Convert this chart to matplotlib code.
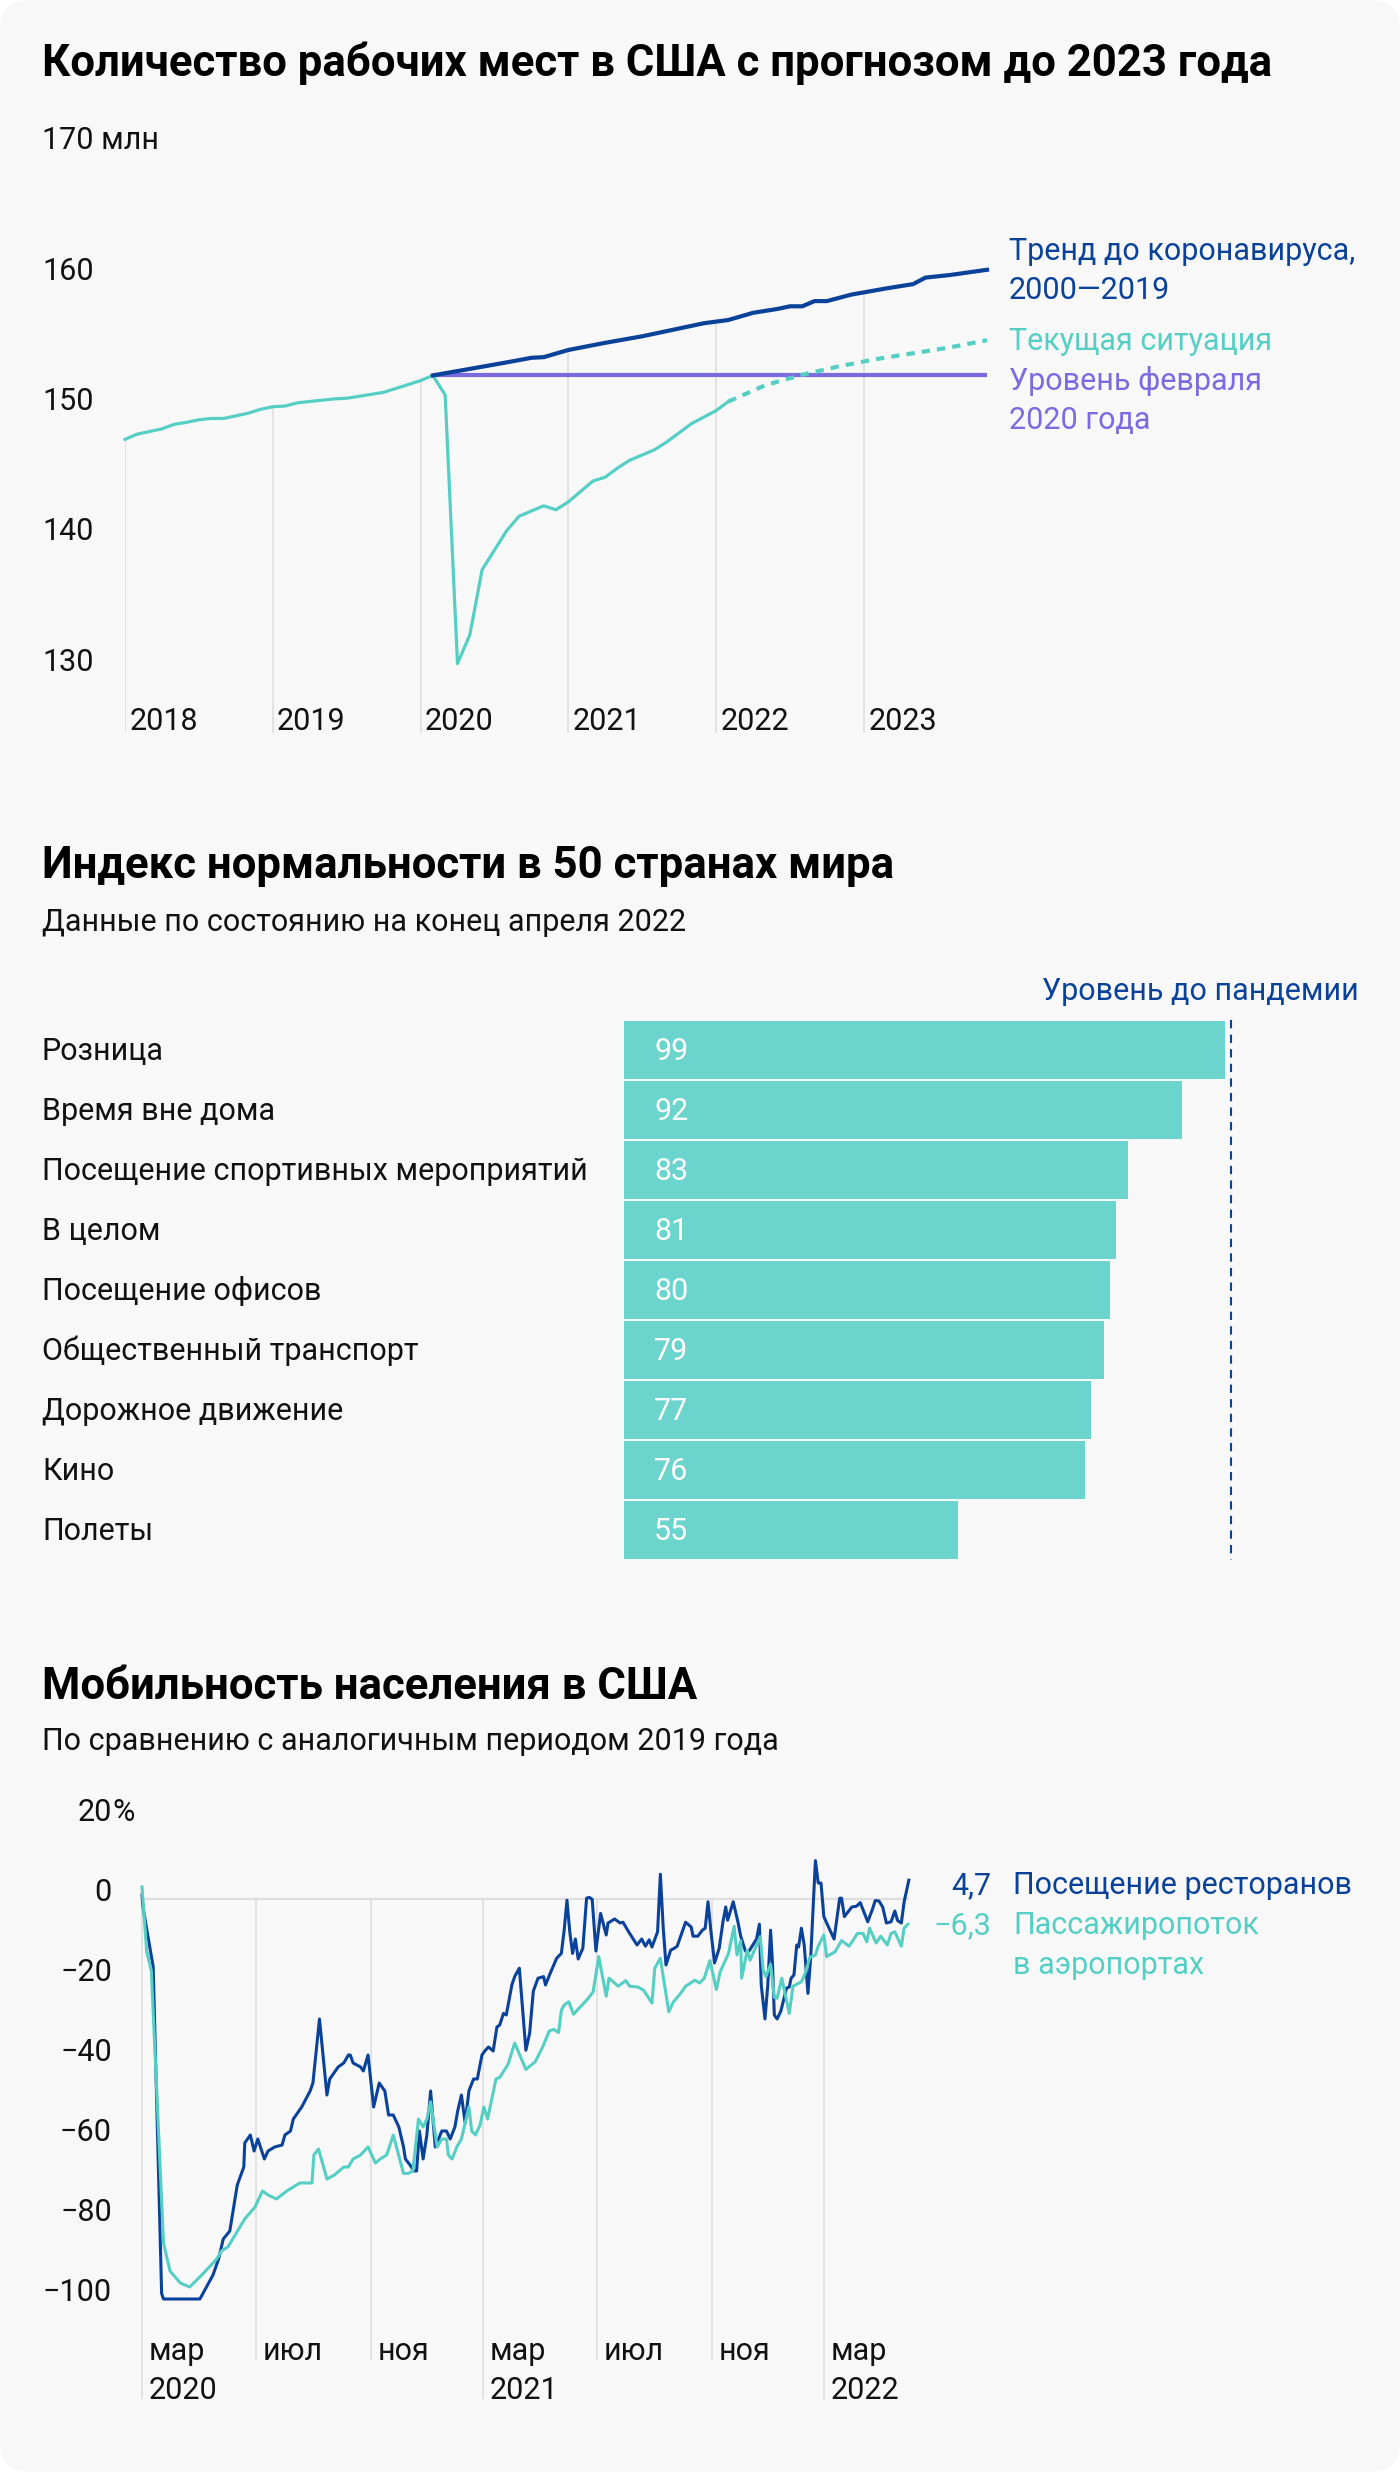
import numpy as np
import matplotlib
matplotlib.use("Agg")
import matplotlib.pyplot as plt
from matplotlib.patches import FancyBboxPatch

plt.rcParams['font.family'] = ['Roboto', 'DejaVu Sans']

W, H = 1400, 2472
BG = '#F8F8F8'
TEAL = '#55CFC4'
BAR = '#6AD4CD'
NAVY = '#0B4299'
PURPLE = '#7C6BE0'
GRID = '#DEDEDE'
INK = '#111111'
TITLE_SIZE = 31.5
BODY = 22

#==================== chart 1: jobs in the US, mln ====================#
# month index: 0 = Jan 2018
jobs_month = list(range(50))
jobs_val = [147.6, 148.0, 148.2, 148.4, 148.75, 148.9, 149.1, 149.2, 149.2, 149.4, 149.6, 149.9,   # 2018
            150.1, 150.15, 150.4, 150.5, 150.6, 150.7, 150.75, 150.9, 151.05, 151.2, 151.5, 151.8,  # 2019
            152.1, 152.5, 151.0, 130.4, 132.6, 137.6, 139.1, 140.6, 141.7, 142.1, 142.5, 142.2,     # 2020
            142.8, 143.6, 144.4, 144.7, 145.4, 146.0, 146.4, 146.8, 147.4, 148.1, 148.8, 149.3,     # 2021
            149.8, 150.5]                                                                          # 2022
fc_month = [49, 52, 55, 58, 61, 64, 67, 70]
fc_val = [150.5, 151.75, 152.55, 153.2, 153.75, 154.2, 154.65, 155.2]
trend_month = [25, 28, 31, 33, 34, 36, 39, 42, 45, 47, 49, 51, 53, 54, 55, 56, 57, 59, 62, 64, 65, 67, 70]
trend_val = [152.5, 153.0, 153.5, 153.85, 153.9, 154.45, 155.0, 155.5, 156.1, 156.5, 156.75, 157.3,
             157.6, 157.8, 157.8, 158.2, 158.2, 158.7, 159.2, 159.5, 160.0, 160.2, 160.6]
feb_level = 152.5
feb_month = [25, 70]
jobs_ticks = [170, 160, 150, 140, 130]
jobs_years = [2018, 2019, 2020, 2021, 2022, 2023]

#==================== chart 2: normality index ====================#
norm_cats = ["Розница", "Время вне дома", "Посещение спортивных мероприятий", "В целом",
             "Посещение офисов", "Общественный транспорт", "Дорожное движение", "Кино", "Полеты"]
norm_vals = [99, 92, 83, 81, 80, 79, 77, 76, 55]
pre_pandemic = 100

#==================== chart 3: mobility vs 2019, % ====================#
# day index: 0 = 1 Mar 2020
rest_day = [0, 1, 12, 21, 23, 62, 76, 82, 87, 94, 102, 109, 110, 116, 120, 124, 131, 135, 142, 150,
            153, 159, 162, 171, 180, 183, 190, 198, 201, 210, 216, 221, 223, 226, 234, 237, 242, 248,
            254, 260, 264, 269, 275, 280, 282, 287, 291, 294, 297, 301, 305, 309, 314, 321, 326, 330,
            335, 338, 342, 346, 350, 355, 359, 364, 367, 371, 376, 380, 383, 387, 390, 396, 399, 404,
            408, 411, 415, 419, 424, 430, 432, 437, 444, 449, 452, 455, 458, 461, 464, 467, 472, 476,
            479, 482, 486, 491, 497, 499, 506, 512, 515, 521, 530, 535, 539, 543, 546, 552, 555, 558,
            561, 566, 570, 573, 579, 582, 588, 590, 595, 600, 603, 606, 609, 613, 618, 622, 625, 627,
            633, 638, 641, 646, 650, 658, 661, 663, 667, 670, 673, 675, 677, 680, 684, 690, 693, 695,
            698, 701, 703, 706, 709, 713, 716, 721, 724, 727, 730, 735, 741, 747, 749, 752, 760, 765,
            769, 777, 782, 785, 789, 793, 797, 802, 806, 809, 813, 816, 821]
rest_val = [1, -2, -17, -98.6, -100, -100, -94, -90, -85, -83, -71.5, -67, -61, -59, -63, -60, -65, -63,
            -62, -61.5, -59, -58, -55, -52, -48, -46, -30, -49, -45, -42, -41, -39, -39, -41, -42, -43,
            -39, -52, -46, -48, -54, -54, -57, -62, -65, -66.5, -68, -68, -58, -65, -59, -48, -62, -58,
            -58, -60, -57, -53, -49, -56, -48, -45, -45, -39, -38, -37, -38, -32, -31.5, -28.6, -29,
            -21.5, -19.4, -17.3, -29, -37.8, -33.6, -23, -19.8, -19.4, -21.5, -18.6, -14.8, -13.6, -7.8,
            -0.3, -8.2, -13.6, -10, -15, -12.3, 0.2, 0.4, -0.1, -13, -3.6, -9, -6, -5, -6, -5.8, -8.2,
            -11.5, -10, -11.8, -10.2, -12, -8.2, 6.2, -7, -16.5, -12.8, -12.3, -11.8, -7.8, -5.8, -7,
            -9.3, -9.3, -7.8, -7.3, -0.7, -7.8, -16, -12.3, -5.7, -2, -5.3, -0.7, -5.7, -9.3, -13, -13,
            -10, -6.3, -21.5, -30, -21.5, -7.8, -16, -29, -30, -28, -22.3, -22, -19.8, -19, -11.5, -12,
            -7.3, -11.5, -23.6, -14.4, 9.6, 4, 4, -4.4, -7, -10, 0.2, 0.2, -4.4, -2, -1.8, -0.9, -5.7,
            -2.6, -0.4, -0.5, -2, -6, -5.7, -3, -5.4, -6, -0.7, 4.7]
air_day = [0, 5, 10, 16, 23, 30, 41, 51, 64, 80, 85, 92, 110, 121, 129, 135, 144, 155, 169, 182, 184,
           189, 198, 206, 216, 221, 226, 234, 242, 250, 255, 262, 269, 280, 285, 290, 296, 301, 305,
           309, 316, 321, 326, 328, 332, 337, 342, 350, 353, 357, 362, 366, 370, 379, 383, 392, 399,
           411, 421, 429, 436, 441, 446, 449, 452, 457, 462, 478, 483, 489, 497, 500, 510, 518, 522,
           531, 537, 546, 549, 555, 564, 569, 576, 582, 592, 597, 602, 608, 615, 619, 628, 634, 637,
           641, 642, 648, 651, 662, 665, 668, 673, 677, 680, 685, 693, 697, 706, 710, 715, 721, 724,
           730, 733, 742, 749, 757, 766, 772, 776, 779, 786, 791, 798, 802, 806, 813, 816, 820]
air_val = [3, -13, -18, -49, -86, -93, -96, -97, -94, -90, -88, -87, -80, -77, -73, -74, -75, -73, -71,
           -71, -64, -62.5, -70, -69, -67, -67, -65, -64, -62, -66, -65, -64, -59, -68.6, -68.6, -68,
           -55, -57, -55, -50.7, -62, -60, -60, -64, -65, -62, -60, -52, -58, -59, -56.5, -52, -55, -45,
           -44.6, -41.3, -36, -42.6, -40.7, -37, -33, -32.6, -33.4, -27.8, -26.5, -25.7, -28.8, -24.8,
           -23.2, -14.4, -24.3, -19.8, -21.8, -20.4, -21.8, -22, -22.8, -26, -17.3, -14.8, -28.2, -25.7,
           -23.8, -21.8, -20.3, -21, -19.8, -15.4, -22.6, -18.2, -13.6, -6.8, -14, -10.4, -19.8, -12.8,
           -15.3, -9.4, -17.8, -19.4, -16.3, -24.6, -24.8, -19.8, -28.6, -21.8, -20.7, -18.6, -14.6,
           -14, -11.8, -9, -14.4, -13.2, -10.4, -11.8, -8.6, -8.6, -10.7, -7.3, -11, -9.3, -11.5, -8.6,
           -8.2, -11.8, -7.3, -6.3]
mob_ticks = [0, -20, -40, -60, -80, -100]
month_day = [0, 122, 245, 365, 487, 610, 730]
month_lbl = ["мар", "июл", "ноя", "мар", "июл", "ноя", "мар"]
year_lbl = ["2020", "", "", "2021", "", "", "2022"]


fig = plt.figure(figsize=(W / 100, H / 100), dpi=100)
fig.patch.set_facecolor('white')
card = FancyBboxPatch((0, 0), W / 100, H / 100, boxstyle='round,pad=0,rounding_size=0.3',
                      transform=fig.dpi_scale_trans, facecolor=BG, edgecolor='none', zorder=-5)
fig.patches.append(card)


def box(l, t, r, b):
    return [l / W, 1 - b / H, (r - l) / W, (b - t) / H]


def ftext(x, y, s, **kw):
    kw.setdefault('va', 'baseline')
    kw.setdefault('fontsize', BODY)
    kw.setdefault('color', INK)
    fig.text(x / W, 1 - y / H, s, **kw)


def clean(ax):
    ax.set_facecolor('none')
    for s in ax.spines.values():
        s.set_visible(False)
    ax.set_xticks([])
    ax.set_yticks([])


#-------------------- chart 1 --------------------#
ftext(42, 76, "Количество рабочих мест в США с прогнозом до 2023 года", fontsize=TITLE_SIZE, fontweight='bold', color='black')

ax1 = fig.add_axes(box(125, 147.2, 987, 733))
clean(ax1)
ax1.set_xlim(0, 70)
ax1.set_ylim(125.08, 170)

# gridlines go up to the highest line at that month
for m in [12 * i for i in range(len(jobs_years))]:
    tops = [np.interp(m, jobs_month, jobs_val)]
    if trend_month[0] <= m <= trend_month[-1]:
        tops.append(np.interp(m, trend_month, trend_val))
    if fc_month[0] <= m <= fc_month[-1]:
        tops.append(np.interp(m, fc_month, fc_val))
    ax1.vlines(m, 125.08, max(tops), color=GRID, lw=1.2, zorder=1)

ax1.plot(feb_month, [feb_level, feb_level], color=PURPLE, lw=3, solid_capstyle='butt', zorder=3, clip_on=False)
ax1.plot(jobs_month, jobs_val, color=TEAL, lw=2.3, zorder=4, clip_on=False)
ax1.plot(fc_month, fc_val, color=TEAL, lw=3, dashes=(2, 1.7), zorder=4, clip_on=False)
ax1.plot(trend_month, trend_val, color=NAVY, lw=3, zorder=5, clip_on=False)

for v in jobs_ticks:
    ax1.text((42 - 125) / 862, v - 0.15, f"{v} млн" if v == 170 else str(v), transform=ax1.get_yaxis_transform(),
             fontsize=BODY, color=INK, va='baseline', ha='left')
for i, yr in enumerate(jobs_years):
    ax1.text(12 * i + 0.35, 125.3, str(yr), fontsize=BODY, color=INK, va='baseline', ha='left')

ftext(1009, 260, "Тренд до коронавируса,", color=NAVY)
ftext(1009, 299, "2000—2019", color=NAVY)
ftext(1009, 350, "Текущая ситуация", color=TEAL)
ftext(1009, 390, "Уровень февраля", color=PURPLE)
ftext(1009, 429, "2020 года", color=PURPLE)

#-------------------- chart 2 --------------------#
ftext(42, 878, "Индекс нормальности в 50 странах мира", fontsize=TITLE_SIZE, fontweight='bold', color='black')
ftext(42, 931, "Данные по состоянию на конец апреля 2022")
ftext(1359, 1000, "Уровень до пандемии", color=NAVY, ha='right')

ax2 = fig.add_axes(box(624, 1020, 1240, 1560))
clean(ax2)
ax2.set_xlim(0, 616 / 6.07)
ax2.set_ylim(len(norm_cats) - 0.5, -0.5)
ypos = np.arange(len(norm_cats))
ax2.barh(ypos, norm_vals, height=0.975, color=BAR, zorder=2)
ax2.vlines(pre_pandemic, -0.5, len(norm_cats) - 0.5, color=NAVY, lw=1.5, linestyles=(0, (4, 3)), zorder=3)
for y, c, v in zip(ypos, norm_cats, norm_vals):
    ax2.text((42 - 624) / 616, y + 0.165, c, transform=ax2.get_yaxis_transform(), fontsize=BODY,
             color=INK, va='baseline', ha='left')
    ax2.text(30 / 6.07, y + 0.165, str(v), fontsize=BODY, color='white', va='baseline', ha='left')

#-------------------- chart 3 --------------------#
ftext(42, 1699, "Мобильность населения в США", fontsize=TITLE_SIZE, fontweight='bold', color='black')
ftext(42, 1750, "По сравнению с аналогичным периодом 2019 года")

ax3 = fig.add_axes(box(142, 1805, 909, 2400))
clean(ax3)
ax3.set_xlim(0, 767 / 0.934)
ax3.set_ylim(-125.25, 23.5)

ax3.hlines(0, 0, rest_day[-1], color=GRID, lw=1.5, zorder=1)
for d, ml, yl in zip(month_day, month_lbl, year_lbl):
    ax3.vlines(d, -125 if yl else -115.25, 0, color=GRID, lw=1.2, zorder=1, clip_on=False)
    ax3.text(d + 7, -115.25, ml, fontsize=BODY, color=INK, va='baseline', ha='left')
    if yl:
        ax3.text(d + 7, -125, yl, fontsize=BODY, color=INK, va='baseline', ha='left')

ax3.plot(rest_day, rest_val, color=NAVY, lw=2.2, zorder=3, clip_on=False)
ax3.plot(air_day, air_val, color=TEAL, lw=2.2, zorder=4, clip_on=False)

tx = (112 - 142) / 767
for v in mob_ticks:
    ax3.text(tx, v - 0.6, str(v).replace('-', '−'), transform=ax3.get_yaxis_transform(), fontsize=BODY,
             color=INK, va='baseline', ha='right')
ax3.text(tx, 19.4, "20", transform=ax3.get_yaxis_transform(), fontsize=BODY, color=INK, va='baseline', ha='right')
ax3.text(tx, 19.4, "%", transform=ax3.get_yaxis_transform(), fontsize=BODY, color=INK, va='baseline', ha='left')

ftext(991, 1894, f"{rest_val[-1]:.1f}".replace('.', ','), color=NAVY, ha='right')
ftext(1013, 1894, "Посещение ресторанов", color=NAVY)
ftext(991, 1934, f"{air_val[-1]:.1f}".replace('.', ',').replace('-', '−'), color=TEAL, ha='right')
ftext(1013, 1934, "Пассажиропоток", color=TEAL)
ftext(1013, 1974, "в аэропортах", color=TEAL)

fig.savefig("out.png", dpi=100, facecolor=fig.get_facecolor())
